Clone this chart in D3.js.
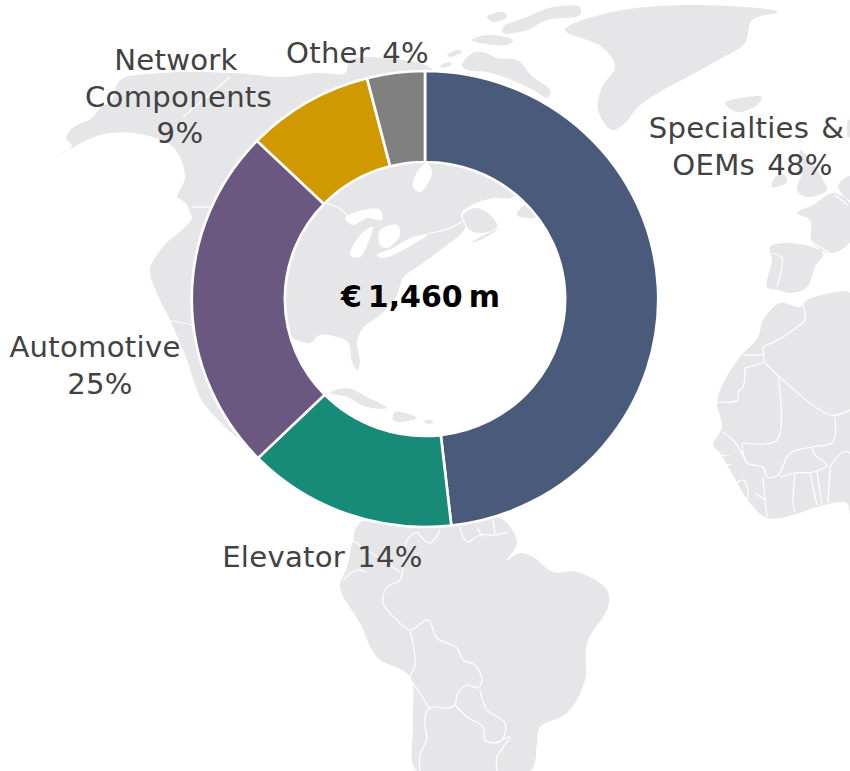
<!DOCTYPE html>
<html><head><meta charset="utf-8">
<script src="https://cdn.jsdelivr.net/npm/d3@7"></script>
<style>html,body{margin:0;padding:0;background:#fff;overflow:hidden}svg{display:block}</style>
</head><body><svg id="c" width="850" height="771"></svg>
<script>
// Chart data
const categories = ["Specialties & OEMs","Elevator","Automotive","Network Components","Other"];
const shares = [48.2,14.5,24.5,8.8,4.0];   // slice sizes as read from the ring
const sliceColors = ["#4a5a7a","#188a78","#6a5880","#d09900","#808080"];
const labelLines = [["Specialties &","OEMs 48%"],["Elevator 14%"],["Automotive","25%"],["Network","Components","9%"],["Other 4%"]];
const labelX = [[746.5,752.5],[322.5],[95,100],[176,178.5,180],[357.5]];
const labelY = [138,567,357,70,63];
const centerLabel = "€\u20091,460\u2009m";

// Decorative background map, traced in page pixels
const land = [
 [[48,160],[72,146],[66,138],[74,127],[92,118],[100,108],[112,100],[120,80],[160,73],[233,73],[283,77],[317,73],[345,73],[350,60],[385,58],[425,65],[440,75],[490,100],[530,170],[513,197],[493,198],[470,206],[461,214],[465,228],[443,248],[420,265],[403,278],[397,295],[380,315],[363,328],[357,342],[360,362],[357,370],[352,362],[348,342],[337,337],[320,335],[310,343],[297,340],[285,335],[270,400],[310,470],[375,515],[360,505],[300,480],[240,440],[205,405],[197,390],[187,360],[170,320],[160,300],[150,270],[163,247],[192,217],[177,200],[185,177],[173,147],[133,133],[100,135],[72,148]],
 [[463,215],[477,208],[493,218],[497,227],[483,233],[470,230]],
 [[462,65],[473,53],[483,52],[497,58],[517,60],[533,77],[550,90],[548,98],[533,90],[507,78],[487,72],[467,70]],
 [[472,40],[487,35],[513,40],[507,45],[480,43]],
 [[503,27],[527,17],[553,7],[580,7],[580,15],[547,20],[527,30],[503,33]],
 [[487,17],[503,12],[507,17],[493,22]],
 [[447,55],[458,50],[462,52],[450,57]],
 [[440,66],[450,62],[452,64],[443,68]],
 [[565,30],[612,12],[692,5],[778,12],[752,20],[745,43],[718,60],[695,73],[658,93],[638,107],[625,123],[612,130],[598,110],[602,87],[615,67],[602,47]],
 [[725,103],[740,98],[762,97],[757,105],[737,112]],
 [[772,187],[775,177],[785,175],[787,182]],
 [[797,190],[803,170],[800,150],[810,160],[823,180],[827,190],[807,197]],
 [[797,213],[813,205],[833,193],[850,203],[850,242],[830,253],[812,242],[810,220]],
 [[838,186],[850,176],[850,200]],
 [[848,120],[850,120],[850,137],[848,137]],
 [[770,247],[790,243],[823,253],[815,267],[807,287],[793,293],[778,290],[767,287],[772,260]],
 [[780,303],[800,307],[807,300],[837,292],[850,293],[850,513],[847,503],[817,507],[793,515],[767,518],[750,503],[720,453],[713,445],[722,427],[717,402],[725,380],[740,357],[758,337],[763,320]],
 [[360,523],[500,518],[517,543],[507,560],[520,553],[533,557],[553,572],[577,572],[607,590],[608,607],[587,643],[585,680],[567,713],[540,727],[537,743],[530,771],[417,771],[413,723],[410,677],[377,657],[360,623],[340,587],[347,567],[353,540]],
 [[330,393],[347,388],[367,397],[387,408],[367,407],[347,397]],
 [[395,412],[417,418],[400,422],[393,420]],
 [[425,420],[433,421],[433,423],[425,423]],
 [[517,215],[525,205],[537,217],[527,218]],
 [[472,242],[500,228],[493,233],[475,242]]
];
const water = [
 [[417,172],[427,163],[432,172],[427,185],[420,192],[413,187]],
 [[345,218],[363,210],[380,210],[382,220],[367,218],[353,225]],
 [[350,255],[363,232],[373,227],[370,238],[360,257]],
 [[380,230],[397,225],[400,235],[387,248],[380,245]],
 [[377,255],[393,248],[413,237],[427,235],[407,248],[383,258]],
 [[176,197],[187,205],[190,218],[182,210]]
];
const borders = [
 [[230,77],[183,117]],[[192,207],[210,207]],[[325,203],[337,207],[347,215]],[[167,320],[193,325]],
 [[423,235],[450,228],[465,220]],
 // South America
 [[417,532],[407,540],[400,580],[387,587],[383,603],[397,620],[410,630],[428,620],[437,638],[457,648],[463,660],[475,665],[482,680],[478,688],[467,685],[457,695],[455,705],[447,708],[433,707],[427,710],[425,727],[427,738],[420,755],[420,771]],
 [[410,630],[415,665],[410,678],[420,693],[430,710]],
 [[455,705],[467,717],[483,727],[485,740],[493,743],[502,740],[505,723],[487,710],[480,690]],
 [[502,740],[510,737],[497,757],[497,771]],
 [[352,540],[370,552],[400,572]],[[343,580],[357,570],[367,572]],
 [[440,530],[430,543],[417,532]],[[460,527],[467,542],[480,535],[495,535],[508,532]],[[477,527],[482,537]],[[493,520],[495,535]],
 // Africa
 [[743,355],[762,355]],[[763,347],[783,337],[797,327],[805,320],[803,305]],[[763,347],[764,362]],
 [[745,368],[763,363]],[[745,368],[743,387],[738,392],[738,400],[717,402]],
 [[778,375],[777,440],[742,443]],[[764,362],[830,415],[850,410]],
 [[835,417],[833,442],[812,447],[790,453],[778,475],[767,477],[763,467],[747,463],[742,443]],
 [[812,447],[815,455],[827,465],[813,472],[795,473],[780,477]],
 [[795,473],[793,503],[795,513]],[[810,473],[817,505]],[[817,472],[822,505]],[[830,467],[828,503]],[[830,467],[843,452],[850,453]],
 [[763,477],[765,500],[767,517]],[[722,432],[733,440],[747,463]],[[718,455],[730,456]],[[718,463],[732,465]],
 [[737,483],[743,480],[748,490],[747,500]],[[755,493],[765,500]],
 // Iberia
 [[772,253],[782,258],[777,287]],[[812,242],[830,253]],[[835,195],[848,205]]
];

const svg = d3.select("#c");
svg.append("defs").append("filter").attr("id","soft").append("feGaussianBlur").attr("stdDeviation",0.5);
const path = d3.line().curve(d3.curveCatmullRomClosed.alpha(0.5));
const open = d3.line().curve(d3.curveCatmullRom.alpha(0.5));
const map = svg.append("g").attr("filter","url(#soft)");
map.selectAll(".land").data(land).join("path").attr("d",path).attr("fill","#e6e6e8");
map.selectAll(".water").data(water).join("path").attr("d",path).attr("fill","#fff");
map.selectAll(".border").data(borders).join("path").attr("d",open).attr("fill","none").attr("stroke","#fff").attr("stroke-width",1.2);

// Donut (the picture is stretched slightly in width)
const cx = 425, cy = 299, stretch = 1.023;
const pie = d3.pie().sort(null).value(d=>d);
const arc = d3.arc().innerRadius(137).outerRadius(228);
const ring = svg.append("g").attr("transform",`translate(${cx},${cy}) scale(${stretch},1)`);
ring.selectAll("path").data(pie(shares)).join("path")
  .attr("d",arc).attr("fill",(d,i)=>sliceColors[i])
  .attr("stroke","#fff").attr("stroke-width",2.6).attr("stroke-linejoin","round");

// Labels
const font = "'DejaVu Sans',Verdana,sans-serif";
const lh = 36.5, textStretch = 1.06;
categories.forEach((c,i)=>{
  labelLines[i].forEach((l,j)=>{
    svg.append("text").attr("transform",`translate(${labelX[i][j]},${labelY[i]+j*lh}) scale(${textStretch},1)`)
      .attr("font-family",font).attr("font-size",27.5).attr("letter-spacing",0.25).attr("word-spacing",2.5)
      .attr("fill","#424242").attr("text-anchor","middle").text(l);
  });
});
svg.append("text").attr("x",420.5).attr("y",307).attr("text-anchor","middle")
  .attr("font-family",font).attr("font-weight","bold").attr("font-size",30).attr("fill","#000").text(centerLabel);
</script></body></html>
